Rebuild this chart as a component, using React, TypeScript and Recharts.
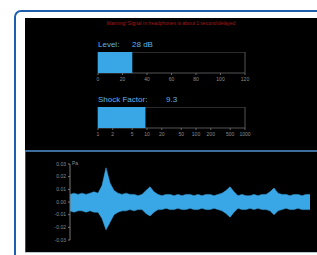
import { BarChart, Bar, XAxis, YAxis, ReferenceArea, AreaChart, Area } from "recharts";

const levelTicks = [0, 20, 40, 60, 80, 100, 120];
const levelValue = 28;
const shockTicks = [1, 2, 5, 10, 20, 50, 100, 200, 500, 1000];
const shockValue = 9.3;
const paTicks = [0.03, 0.02, 0.01, 0, -0.01, -0.02, -0.03];

// waveform envelope (Pa)
const waveHigh = [
    0.006, 0.007, 0.006, 0.007, 0.006, 0.007, 0.008, 0.007, 0.013, 0.027,
    0.015, 0.009, 0.007, 0.006, 0.007, 0.006, 0.006, 0.005, 0.006, 0.009,
    0.012, 0.008, 0.006, 0.005, 0.006, 0.006, 0.005, 0.006, 0.005, 0.006,
    0.006, 0.005, 0.006, 0.005, 0.006, 0.006, 0.005, 0.006, 0.007, 0.009,
    0.012, 0.008, 0.005, 0.006, 0.005, 0.005, 0.006, 0.005, 0.006, 0.006,
    0.008, 0.011, 0.007, 0.006, 0.006, 0.005, 0.006, 0.006, 0.005, 0.006,
    0.006,
];
const waveLow = [
    -0.007, -0.008, -0.007, -0.007, -0.008, -0.007, -0.008, -0.008, -0.013, -0.022,
    -0.016, -0.010, -0.008, -0.007, -0.007, -0.006, -0.007, -0.006, -0.006, -0.009,
    -0.011, -0.008, -0.006, -0.006, -0.005, -0.006, -0.006, -0.005, -0.006, -0.006,
    -0.005, -0.006, -0.006, -0.005, -0.006, -0.006, -0.005, -0.006, -0.007, -0.009,
    -0.012, -0.008, -0.005, -0.006, -0.006, -0.005, -0.006, -0.005, -0.006, -0.006,
    -0.007, -0.010, -0.007, -0.006, -0.005, -0.006, -0.006, -0.005, -0.006, -0.006,
    -0.006,
];

const BLUE = "#39a7e6";
const tickStyle = { fontSize: 5, fill: "#8c8c8c", fontFamily: "Liberation Sans" };

const App = () => {
    const waveData = waveHigh.map((h, i) => ({ t: i, range: [waveLow[i], h] }));
    return <div style={{ position: "absolute", left: 0, top: 0, width: 317, height: 255, overflow: "hidden", background: "#fff", fontFamily: "Liberation Sans" }}>
        <div style={{ position: "absolute", left: 14, top: 10, width: 330, height: 270, border: "2px solid #1d5fae", borderRadius: 7 }} />
        <div style={{ position: "absolute", left: 25, top: 18, width: 292, height: 234, background: "#000" }} />
        <div style={{ position: "absolute", left: 25, top: 252, width: 292, height: 1, background: "#b9c6d2" }} />
        <div style={{ position: "absolute", left: 25, top: 150, width: 292, height: 2, background: "#3d6e9e" }} />
        <div style={{ position: "absolute", left: 25, top: 152, width: 1, height: 100, background: "#2f4f6f" }} />

        <div style={{ position: "absolute", left: 25, width: 292, top: 20, textAlign: "center", fontSize: 5, color: "#a01c1c" }}>
            Warning! Signal in headphones is about 1 second delayed
        </div>

        <div style={{ position: "absolute", left: 98, top: 40, fontSize: 8, color: "#5fb2ea", whiteSpace: "pre" }}>Level:</div>
        <div style={{ position: "absolute", left: 132, top: 40, fontSize: 8, color: "#5fb2ea" }}>{levelValue} dB</div>
        <div style={{ position: "absolute", left: 98, top: 95, fontSize: 8, color: "#5fb2ea" }}>Shock Factor:</div>
        <div style={{ position: "absolute", left: 166, top: 95, fontSize: 8, color: "#5fb2ea" }}>{shockValue}</div>

        <div style={{ position: "absolute", left: 93, top: 52 }}>
            <BarChart width={160} height={33} layout="vertical" data={[{ name: "Level", value: levelValue }]}
                margin={{ top: 0, right: 8, bottom: 0, left: 5 }} barCategoryGap={0}>
                <XAxis type="number" domain={[0, 120]} ticks={levelTicks} interval={0} height={12}
                    tick={tickStyle} tickSize={2} axisLine={false} tickLine={{ stroke: "#666" }} />
                <YAxis type="category" dataKey="name" hide />
                <Bar dataKey="value" fill={BLUE} isAnimationActive={false} />
                <ReferenceArea x1={0} x2={120} fill="none" stroke="#555" strokeWidth={1} ifOverflow="visible" />
            </BarChart>
        </div>

        <div style={{ position: "absolute", left: 93, top: 107 }}>
            <BarChart width={160} height={33} layout="vertical" data={[{ name: "Shock", value: shockValue }]}
                margin={{ top: 0, right: 8, bottom: 0, left: 5 }} barCategoryGap={0}>
                <XAxis type="number" scale="log" domain={[1, 1000]} ticks={shockTicks} interval={0} height={12}
                    tick={tickStyle} tickSize={2} axisLine={false} tickLine={{ stroke: "#666" }} />
                <YAxis type="category" dataKey="name" hide />
                <Bar dataKey="value" fill={BLUE} isAnimationActive={false} />
                <ReferenceArea x1={1} x2={1000} fill="none" stroke="#555" strokeWidth={1} ifOverflow="visible" />
            </BarChart>
        </div>

        <div style={{ position: "absolute", left: 72, top: 160, fontSize: 5, color: "#8c8c8c" }}>Pa</div>
        <div style={{ position: "absolute", left: 25, top: 152 }}>
            <AreaChart width={292} height={100} data={waveData} margin={{ top: 12, right: 7, bottom: 12, left: 0 }}>
                <XAxis dataKey="t" type="number" domain={[0, 60]} hide />
                <YAxis width={45} domain={[-0.03, 0.03]} ticks={paTicks} interval={0}
                    tickFormatter={(v: number) => v.toFixed(2)} tick={tickStyle} tickSize={2}
                    axisLine={{ stroke: "#777" }} tickLine={{ stroke: "#777" }} />
                <Area type="linear" dataKey="range" stroke={BLUE} strokeWidth={0.5} fill={BLUE} fillOpacity={1} isAnimationActive={false} />
            </AreaChart>
        </div>
    </div>
}

export default App;
